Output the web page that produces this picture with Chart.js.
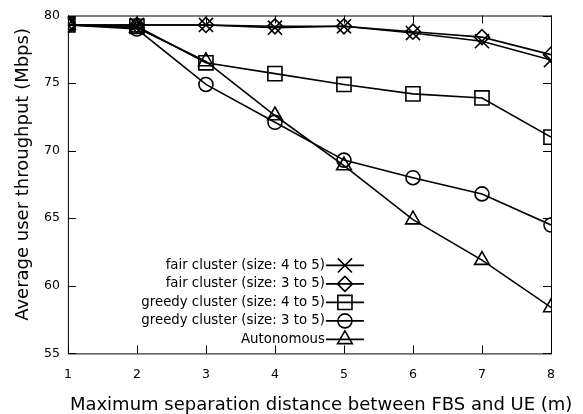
<!DOCTYPE html>
<html>
<head>
<meta charset="utf-8">
<script src="https://cdn.jsdelivr.net/npm/chart.js@4/dist/chart.umd.min.js"></script>
<style>
  html, body { margin: 0; padding: 0; background: #fff; }
  #wrap { width: 583px; height: 414px; }
</style>
</head>
<body>
<div id="wrap"><canvas id="chart" width="583" height="414"></canvas></div>
<script>
// data
const distances = [1, 2, 3, 4, 5, 6, 7, 8];
const fairCluster45 = [79.3, 79.3, 79.3, 79.1, 79.2, 78.7, 78.1, 76.7];
const fairCluster35 = [79.3, 79.3, 79.3, 79.2, 79.2, 78.8, 78.4, 77.1];
const greedyCluster45 = [79.3, 79.2, 76.5, 75.7, 74.9, 74.2, 73.9, 71.0];
const greedyCluster35 = [79.3, 79.0, 74.9, 72.1, 69.3, 68.0, 66.8, 64.5];
const autonomous = [79.3, 79.1, 76.6, 72.6, 68.9, 64.9, 61.9, 58.4];
const yTicks = [55, 60, 65, 70, 75, 80];
const xTitle = "Maximum separation distance between FBS and UE (m)";
const yTitle = "Average user throughput (Mbps)";

const FONT = "'DejaVu Sans', Verdana, sans-serif";

// marker size per point style (gnuplot markers are about the same size)
const markerRadius = { crossRot: 10, rectRot: 7.5, rect: 10, circle: 7, triangle: 8.5 };

function series(label, values, style) {
  return {
    label: label,
    data: distances.map((d, i) => ({ x: d, y: values[i] })),
    borderColor: "#000",
    backgroundColor: "rgba(0,0,0,0)",
    borderWidth: 1.6,
    pointStyle: style,
    pointRadius: markerRadius[style],
    pointBorderWidth: 1.6,
    pointBorderColor: "#000",
    pointBackgroundColor: "rgba(0,0,0,0)",
    tension: 0,
  };
}

// gnuplot-style frame with inward ticks, plus both axis titles
const framePlugin = {
  id: "frame",
  afterDraw(chart) {
    const { ctx, chartArea: a, scales } = chart;
    ctx.save();
    ctx.strokeStyle = "#000";
    ctx.lineWidth = 1;
    ctx.strokeRect(a.left + 0.5, a.top + 0.5, a.right - a.left, a.bottom - a.top);
    const len = 8;
    ctx.beginPath();
    distances.forEach((d) => {
      const x = Math.round(scales.x.getPixelForValue(d)) + 0.5;
      ctx.moveTo(x, a.bottom);
      ctx.lineTo(x, a.bottom - len);
      ctx.moveTo(x, a.top);
      ctx.lineTo(x, a.top + len);
    });
    yTicks.forEach((v) => {
      const y = Math.round(scales.y.getPixelForValue(v)) + 0.5;
      ctx.moveTo(a.left, y);
      ctx.lineTo(a.left + len, y);
      ctx.moveTo(a.right, y);
      ctx.lineTo(a.right - len, y);
    });
    ctx.stroke();

    ctx.fillStyle = "#000";
    ctx.font = "18px " + FONT;
    ctx.textAlign = "left";
    ctx.textBaseline = "alphabetic";
    ctx.fillText(xTitle, a.left + 2, a.bottom + 57);

    // y title sits a little above the middle of the axis, as in the source
    ctx.translate(a.left - 45, (a.top + a.bottom) / 2 - 10);
    ctx.rotate(-Math.PI / 2);
    ctx.textAlign = "center";
    ctx.textBaseline = "middle";
    ctx.fillText(yTitle, 0, 0);
    ctx.restore();
  },
};

// legend inside the plot, text right-aligned with a line sample
const keyPlugin = {
  id: "key",
  afterDraw(chart) {
    const { ctx, chartArea: a } = chart;
    const textRight = a.left + 257;
    const x0 = textRight + 1;
    const x1 = textRight + 39;
    const rowTop = a.bottom - 88;
    const step = 18.5;
    ctx.save();
    ctx.font = "13.3px " + FONT;
    ctx.textAlign = "right";
    ctx.textBaseline = "middle";
    chart.data.datasets.forEach((ds, i) => {
      const y = rowTop + i * step;
      ctx.fillStyle = "#000";
      ctx.fillText(ds.label, textRight, y);
      ctx.strokeStyle = "#000";
      ctx.lineWidth = 1.6;
      ctx.beginPath();
      ctx.moveTo(x0, y);
      ctx.lineTo(x1, y);
      ctx.stroke();
      ctx.fillStyle = "rgba(0,0,0,0)";
      Chart.helpers.drawPoint(ctx, {
        pointStyle: ds.pointStyle,
        radius: ds.pointRadius,
        borderWidth: 1.6,
        rotation: 0,
      }, (x0 + x1) / 2, y);
    });
    ctx.restore();
  },
};

new Chart(document.querySelector("#chart").getContext("2d"), {
  type: "line",
  data: {
    datasets: [
      series("fair cluster (size: 4 to 5)", fairCluster45, "crossRot"),
      series("fair cluster (size: 3 to 5)", fairCluster35, "rectRot"),
      series("greedy cluster (size: 4 to 5)", greedyCluster45, "rect"),
      series("greedy cluster (size: 3 to 5)", greedyCluster35, "circle"),
      series("Autonomous", autonomous, "triangle"),
    ],
  },
  options: {
    responsive: false,
    animation: false,
    layout: { padding: { top: 15, right: 32, left: 36, bottom: 17.6 } },
    plugins: {
      legend: { display: false },
      tooltip: { enabled: false },
    },
    scales: {
      x: {
        type: "linear",
        min: 1,
        max: 8,
        border: { display: false },
        grid: { display: false, drawTicks: false },
        ticks: {
          stepSize: 1,
          color: "#000",
          font: { family: FONT, size: 12.5 },
          padding: 14,
          maxRotation: 0,
        },
      },
      y: {
        min: 55,
        max: 80,
        border: { display: false },
        grid: { display: false, drawTicks: false },
        afterBuildTicks(scale) {
          scale.ticks = yTicks.map((v) => ({ value: v }));
        },
        ticks: {
          color: "#000",
          font: { family: FONT, size: 12.5 },
          padding: 8,
        },
      },
    },
  },
  plugins: [framePlugin, keyPlugin],
});
</script>
</body>
</html>
